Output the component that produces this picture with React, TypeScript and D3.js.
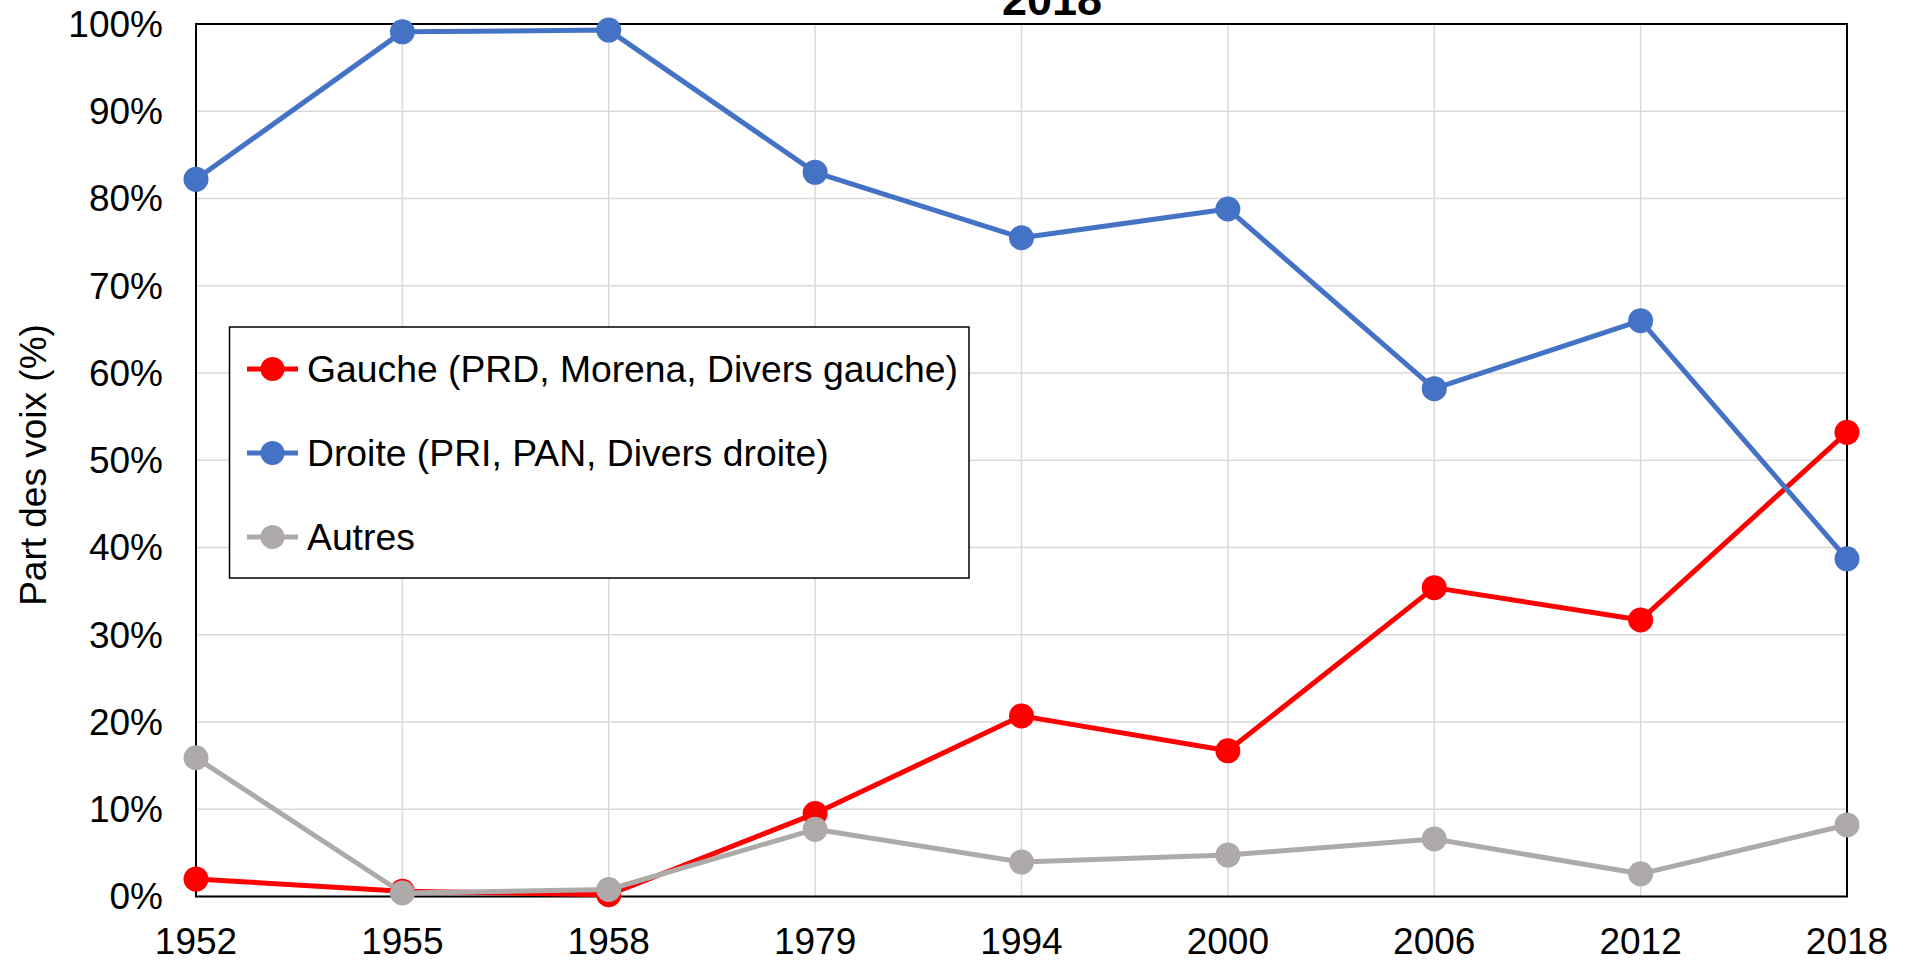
import React from "react";
import * as d3 from "d3";

const years = ["1952", "1955", "1958", "1979", "1994", "2000", "2006", "2012", "2018"];
const gauche = [2.0, 0.6, 0.2, 9.5, 20.7, 16.7, 35.4, 31.7, 53.2];
const droite = [82.2, 99.1, 99.3, 83.0, 75.5, 78.8, 58.2, 66.0, 38.7];
const autres = [15.9, 0.4, 0.8, 7.7, 3.95, 4.75, 6.6, 2.6, 8.2];
const yTicks = [0, 10, 20, 30, 40, 50, 60, 70, 80, 90, 100];

const seriesNames = ["Gauche (PRD, Morena, Divers gauche)", "Droite (PRI, PAN, Divers droite)", "Autres"];
const seriesColors = ["#FF0000", "#4472C4", "#AEAAAA"];
const seriesValues = [gauche, droite, autres];

const W = 1912;
const H = 960;
const FONT = "'Liberation Sans', Arial, Helvetica, sans-serif";

export default function App() {
  const left = 196;
  const right = 1847;
  const top = 24;
  const bottom = 896.5;

  const x = d3.scalePoint<string>().domain(years).range([left, right]).padding(0);
  const y = d3.scaleLinear().domain([0, 100]).range([bottom, top]);
  const line = d3
    .line<number>()
    .x((_, i) => x(years[i]) as number)
    .y((d) => y(d));

  const legendX = 229.5;
  const legendY = 327;
  const legendW = 739.5;
  const legendH = 251;
  const legendRows = [369, 453, 537];

  return (
    <svg
      width={W}
      height={H}
      style={{ position: "absolute", left: 0, top: 0, background: "#fff" }}
      fontFamily={FONT}
    >
      <rect x={0} y={0} width={W} height={H} fill="#fff" />
      {/* title (cut off) */}
      <text x={1052} y={15} textAnchor="middle" fontSize={45} fontWeight="bold" fill="#000">
        2018
      </text>
      {/* gridlines */}
      {yTicks.map((t) => (
        <line key={"h" + t} x1={left} x2={right} y1={y(t)} y2={y(t)} stroke="#D9D9D9" strokeWidth={1.5} />
      ))}
      {years.map((yr) => (
        <line key={"v" + yr} x1={x(yr)} x2={x(yr)} y1={top} y2={bottom} stroke="#D9D9D9" strokeWidth={1.5} />
      ))}
      {/* plot border */}
      <rect x={left} y={top} width={right - left} height={bottom - top} fill="none" stroke="#000" strokeWidth={2} />
      {/* y ticks */}
      {yTicks.map((t) => (
        <text key={"yt" + t} x={163} y={y(t)} dy="0.35em" textAnchor="end" fontSize={37} fill="#000">
          {t + "%"}
        </text>
      ))}
      {/* x ticks */}
      {years.map((yr) => (
        <text key={"xt" + yr} x={x(yr)} y={954} textAnchor="middle" fontSize={37} fill="#000">
          {yr}
        </text>
      ))}
      {/* y axis title */}
      <text transform={`translate(46,465) rotate(-90)`} textAnchor="middle" fontSize={37} fill="#000">
        Part des voix (%)
      </text>
      {/* series */}
      {seriesValues.map((vals, si) => (
        <g key={"s" + si}>
          <path d={line(vals) || ""} fill="none" stroke={seriesColors[si]} strokeWidth={5} strokeLinejoin="round" />
          {vals.map((v, i) => (
            <circle key={i} cx={x(years[i])} cy={y(v)} r={12.5} fill={seriesColors[si]} />
          ))}
        </g>
      ))}
      {/* legend */}
      <rect x={legendX} y={legendY} width={legendW} height={legendH} fill="#fff" stroke="#000" strokeWidth={1.5} />
      {seriesNames.map((name, i) => (
        <g key={"l" + i}>
          <line x1={247} x2={298} y1={legendRows[i]} y2={legendRows[i]} stroke={seriesColors[i]} strokeWidth={5} />
          <circle cx={272.5} cy={legendRows[i]} r={12} fill={seriesColors[i]} />
          <text x={307} y={legendRows[i]} dy="0.35em" fontSize={37.3} fill="#000">
            {name}
          </text>
        </g>
      ))}
    </svg>
  );
}
